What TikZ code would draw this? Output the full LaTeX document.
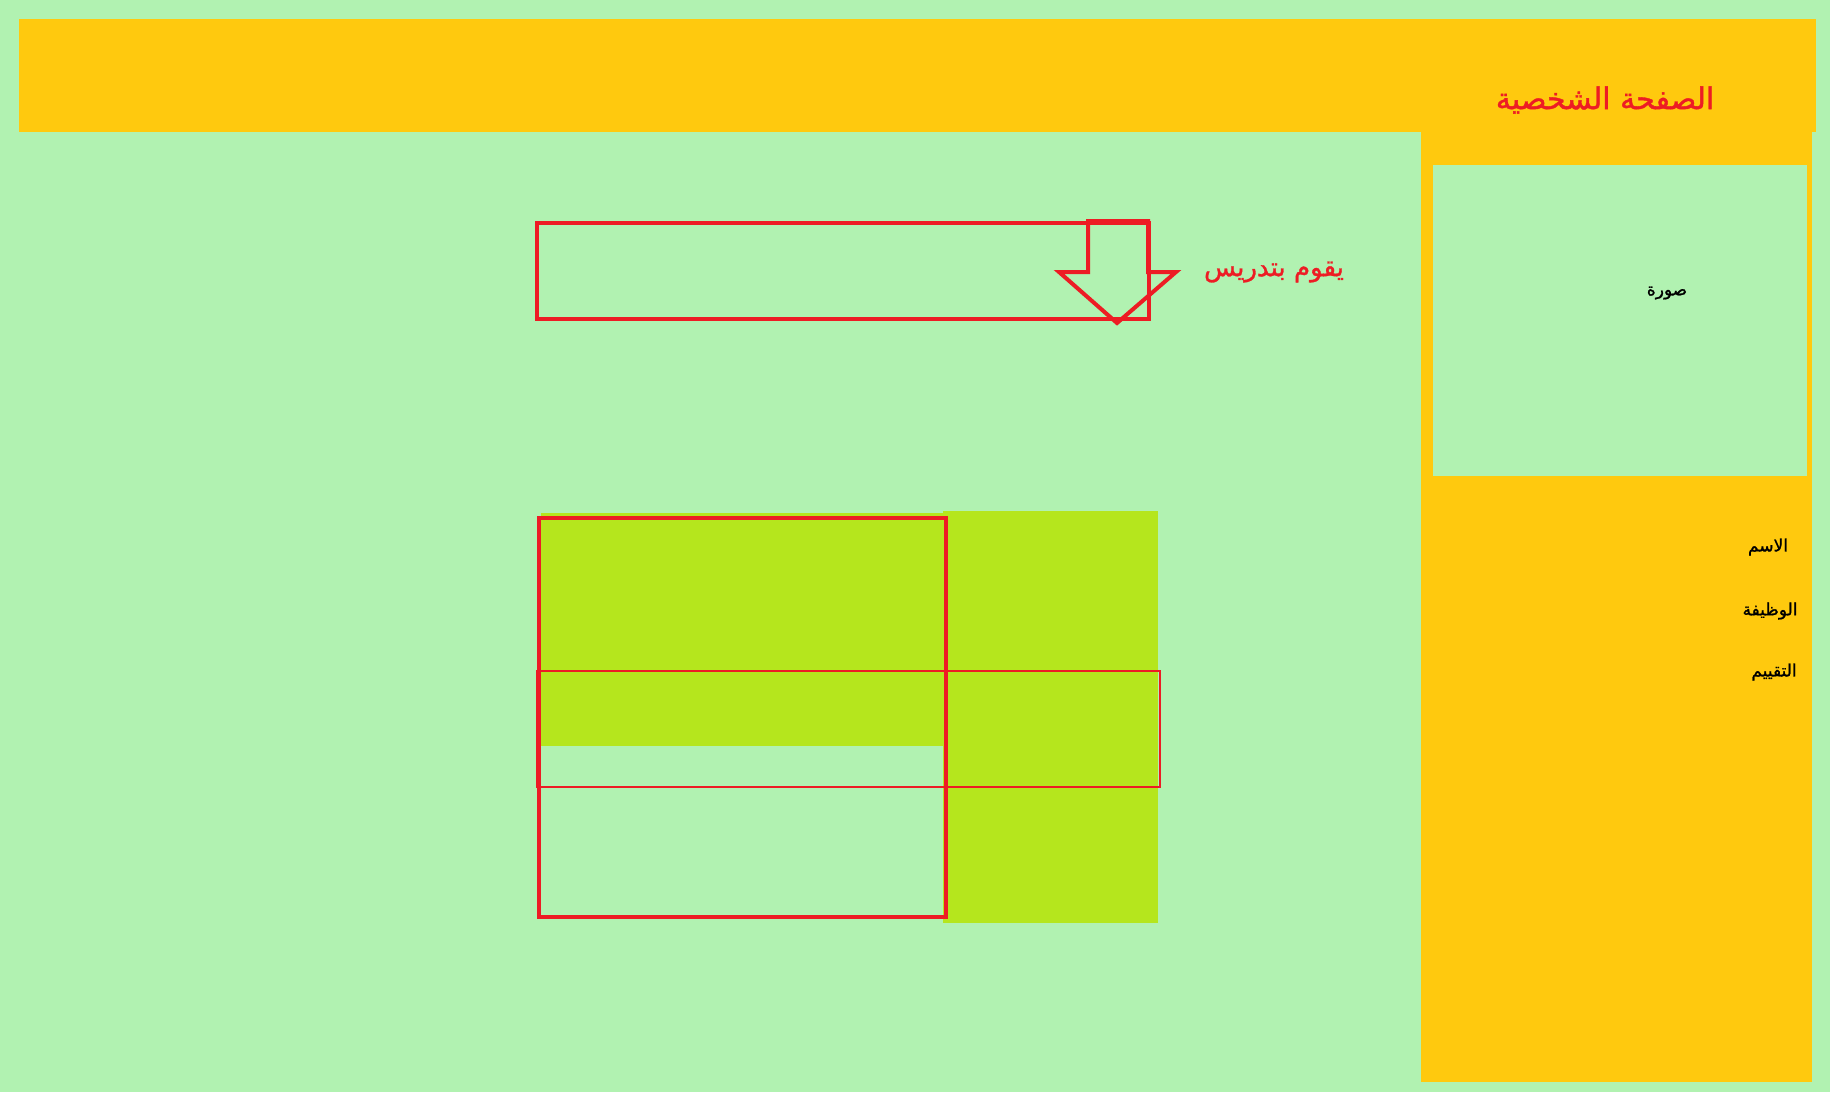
\documentclass[tikz,border=0pt]{standalone}
\usepackage{fontspec}
\newfontfamily\arabicfont[Script=Arabic]{DejaVu Sans}
\newfontfamily\arabicfontb[Script=Arabic,FakeBold=1.2]{DejaVu Sans}
\TeXXeTstate=1
\definecolor{bgGreen}{HTML}{B1F2B1}
\definecolor{gold}{HTML}{FFC90E}
\definecolor{lime}{HTML}{B5E61D}
\definecolor{pRed}{HTML}{ED1C24}
\tikzset{
  redline/.style={draw=pRed, line width=2pt, line join=miter},
  thinred/.style={draw=pRed, line width=1.3pt},
  redlabel/.style={text=pRed, inner sep=0pt, font=\arabicfontb\fontsize{15}{18}\selectfont},
  blacklabel/.style={text=black, inner sep=0pt, font=\arabicfontb\fontsize{8.5}{10}\selectfont},
}
\begin{document}
\begin{tikzpicture}[x=0.5pt,y=-0.5pt]
\fill[bgGreen] (0,0) rectangle (1830,1092);
\useasboundingbox (0,0) rectangle (1830,1092);
% header bar and sidebar
\fill[gold] (19,19) rectangle (1816,132);
\fill[gold] (1421,131) rectangle (1812,1082);
\fill[bgGreen] (1433,165) rectangle (1807,476);
% lime areas
\fill[lime] (541,513) rectangle (944,746);
\fill[lime] (943,511) rectangle (1158,923);
% red frames
\draw[thinred] (537,671) rectangle (1160,787);
\draw[redline] (539,518) rectangle (946,917);
\draw[redline] (537,223) rectangle (1149,319);
% block arrow
\coordinate (a1) at (1088,221);
\coordinate (a2) at (1148,221);
\coordinate (a3) at (1148,272);
\coordinate (a4) at (1176,272);
\coordinate (tip) at (1117,323);
\coordinate (a6) at (1059,272);
\coordinate (a7) at (1088,272);
\draw[redline] (a1) -- (a2) -- (a3) -- (a4) -- (tip) -- (a6) -- (a7) -- cycle;
% texts
\node[redlabel] (title) at (1605,100) {\beginR الصفحة الشخصية\endR};
\node[redlabel, font=\arabicfontb\fontsize{13}{16}\selectfont] (teach) at (1274,272) {\beginR يقوم بتدريس\endR};
\node[blacklabel] (photo) at (1667,293) {\beginR صورة\endR};
\node[blacklabel] (name) at (1768,547) {\beginR الاسم\endR};
\node[blacklabel] (job) at (1770,611) {\beginR الوظيفة\endR};
\node[blacklabel] (rating) at (1774,672) {\beginR التقييم\endR};
\end{tikzpicture}
\end{document}
